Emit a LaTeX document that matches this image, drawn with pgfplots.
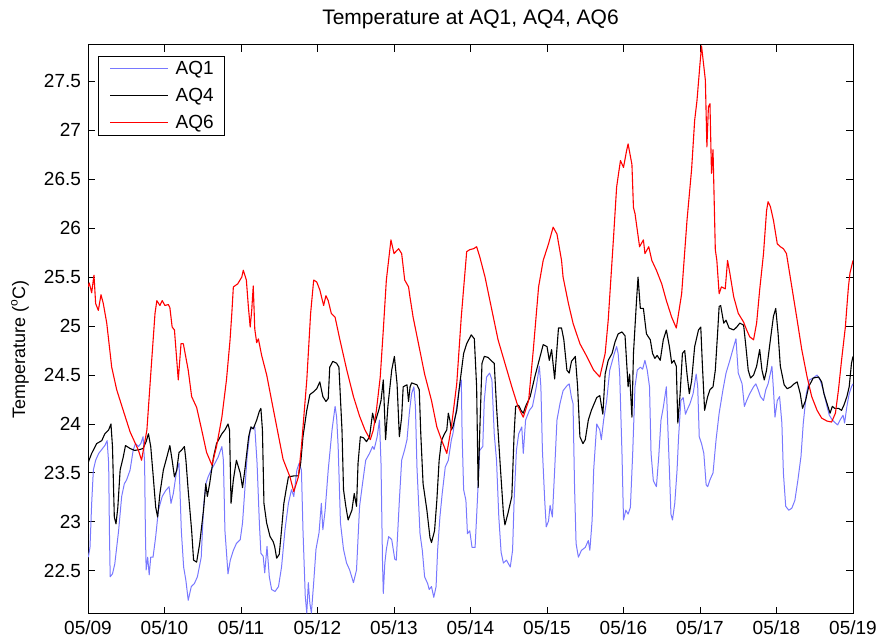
\documentclass[border=0pt]{standalone}
\usepackage{fontspec}
\setmainfont{Liberation Sans}
\usepackage{pgfplots}
\pgfplotsset{compat=1.18}

\definecolor{aqone}{RGB}{120,120,255}
\definecolor{aqsix}{RGB}{255,0,0}

% days since 05/09 00:00, temperature in deg C
\pgfplotstableread{
d T
0.004 22.64
0.026 22.74
0.048 23.19
0.070 23.53
0.100 23.63
0.140 23.70
0.190 23.75
0.220 23.78
0.250 23.83
0.270 23.60
0.280 22.91
0.290 22.44
0.320 22.47
0.350 22.57
0.400 22.91
0.440 23.26
0.475 23.39
0.505 23.43
0.550 23.53
0.590 23.73
0.620 23.80
0.660 23.77
0.690 23.80
0.720 23.87
0.740 23.60
0.750 22.91
0.760 22.51
0.780 22.64
0.800 22.46
0.820 22.64
0.850 22.64
0.885 22.85
0.920 23.12
0.970 23.26
1.015 23.32
1.060 23.36
1.085 23.19
1.115 23.29
1.160 23.53
1.190 23.60
1.220 22.91
1.250 22.54
1.280 22.40
1.310 22.20
1.350 22.34
1.390 22.37
1.430 22.44
1.480 22.64
1.510 23.15
1.540 23.39
1.570 23.46
1.610 23.53
1.660 23.60
1.700 23.66
1.750 23.77
1.770 23.63
1.790 22.91
1.830 22.47
1.860 22.61
1.900 22.71
1.940 22.78
1.990 22.82
2.020 22.99
2.050 23.33
2.080 23.67
2.120 23.94
2.150 23.96
2.180 23.97
2.210 23.60
2.240 22.99
2.260 22.68
2.290 22.65
2.310 22.48
2.340 22.75
2.370 22.44
2.400 22.31
2.445 22.29
2.490 22.34
2.530 22.54
2.575 22.92
2.620 23.19
2.660 23.33
2.690 23.26
2.730 23.53
2.760 23.60
2.790 23.53
2.810 22.92
2.840 22.24
2.860 22.07
2.880 22.38
2.900 22.17
2.920 22.07
2.950 22.38
2.980 22.72
3.020 22.89
3.050 23.19
3.070 22.92
3.100 23.12
3.140 23.53
3.190 23.94
3.230 24.18
3.250 24.07
3.270 23.77
3.300 22.99
3.340 22.72
3.380 22.58
3.420 22.51
3.470 22.38
3.510 22.51
3.550 23.16
3.590 23.40
3.630 23.63
3.680 23.70
3.720 23.77
3.740 23.74
3.780 23.87
3.810 24.04
3.830 23.60
3.850 22.58
3.860 22.27
3.880 22.58
3.900 22.72
3.930 22.85
3.970 22.82
4.010 22.62
4.030 22.61
4.070 23.22
4.100 23.63
4.140 23.74
4.170 23.84
4.200 24.11
4.230 24.31
4.260 24.38
4.280 24.18
4.300 23.56
4.320 23.22
4.340 22.88
4.370 22.71
4.400 22.44
4.440 22.37
4.460 22.31
4.490 22.34
4.520 22.23
4.550 22.34
4.570 22.71
4.600 23.05
4.630 23.29
4.670 23.56
4.710 23.63
4.750 23.84
4.770 23.90
4.820 24.18
4.850 24.35
4.880 24.45
4.890 23.90
4.910 23.33
4.940 23.22
4.960 22.88
4.990 22.91
5.020 22.74
5.060 22.74
5.090 23.22
5.120 23.73
5.160 23.77
5.180 24.24
5.210 24.48
5.250 24.52
5.280 24.45
5.310 23.90
5.340 23.63
5.370 23.05
5.400 22.69
5.430 22.58
5.470 22.61
5.520 22.54
5.550 22.71
5.570 23.22
5.600 23.73
5.630 23.90
5.670 23.97
5.690 23.70
5.720 24.04
5.770 24.14
5.810 24.18
5.860 24.38
5.900 24.59
5.920 24.38
5.940 23.73
5.970 23.22
5.990 22.95
6.020 23.01
6.040 23.17
6.070 23.05
6.100 23.53
6.130 24.04
6.170 24.21
6.210 24.34
6.260 24.39
6.290 24.41
6.320 24.27
6.340 24.21
6.360 23.36
6.380 22.78
6.410 22.64
6.450 22.71
6.500 22.74
6.540 22.81
6.560 22.71
6.590 23.02
6.610 23.53
6.650 24.00
6.690 23.94
6.710 23.84
6.740 24.04
6.780 24.24
6.820 24.55
6.880 24.72
6.910 24.79
6.930 24.72
6.950 24.51
6.980 23.70
7.000 23.02
7.030 23.12
7.060 23.08
7.090 23.15
7.120 23.70
7.150 24.38
7.180 24.55
7.220 24.58
7.250 24.56
7.280 24.65
7.310 24.55
7.340 24.38
7.360 23.70
7.390 23.42
7.430 23.36
7.460 23.66
7.490 24.04
7.520 24.17
7.560 24.38
7.570 24.17
7.600 23.53
7.620 23.08
7.640 23.02
7.670 23.19
7.700 23.53
7.720 23.87
7.750 24.24
7.780 24.27
7.810 24.10
7.830 24.14
7.870 24.21
7.910 24.31
7.950 24.51
7.970 24.38
7.990 23.87
8.020 23.80
8.050 23.70
8.080 23.38
8.100 23.36
8.130 23.43
8.170 23.50
8.210 23.84
8.250 24.11
8.300 24.35
8.340 24.52
8.390 24.65
8.440 24.79
8.470 24.87
8.500 24.52
8.550 24.41
8.580 24.18
8.610 24.24
8.650 24.31
8.700 24.38
8.730 24.41
8.760 24.35
8.790 24.28
8.830 24.24
8.860 24.35
8.890 24.41
8.940 24.59
8.960 24.35
8.980 24.07
9.010 24.24
9.040 24.28
9.070 24.01
9.090 23.50
9.120 23.16
9.160 23.12
9.200 23.14
9.240 23.22
9.280 23.43
9.320 23.67
9.350 24.01
9.390 24.31
9.430 24.45
9.480 24.47
9.530 24.50
9.570 24.45
9.610 24.35
9.660 24.18
9.690 24.09
9.730 24.04
9.770 24.01
9.800 23.99
9.830 24.04
9.870 24.09
9.890 24.01
9.920 24.18
9.950 24.31
9.980 24.38
10.000 24.41
}\aqA

\pgfplotstableread{
d T
0.004 23.61
0.048 23.70
0.113 23.80
0.180 23.83
0.220 23.90
0.270 23.94
0.300 24.00
0.320 23.77
0.344 23.05
0.366 22.98
0.390 23.15
0.420 23.53
0.460 23.66
0.490 23.78
0.550 23.75
0.610 23.73
0.680 23.74
0.720 23.75
0.760 23.82
0.790 23.90
0.820 23.77
0.850 23.49
0.885 23.15
0.910 23.05
0.940 23.29
0.985 23.53
1.030 23.66
1.070 23.78
1.100 23.63
1.130 23.46
1.160 23.53
1.190 23.71
1.220 23.73
1.260 23.77
1.280 23.63
1.310 23.32
1.355 22.91
1.380 22.61
1.420 22.59
1.460 22.78
1.510 23.12
1.540 23.39
1.560 23.26
1.590 23.39
1.640 23.66
1.680 23.80
1.750 23.90
1.790 23.94
1.830 24.00
1.850 23.94
1.870 23.19
1.900 23.43
1.940 23.63
1.990 23.50
2.020 23.35
2.050 23.53
2.100 23.87
2.130 23.97
2.160 23.95
2.205 24.04
2.240 24.13
2.260 24.16
2.280 23.94
2.300 23.19
2.335 22.99
2.380 22.85
2.420 22.80
2.440 22.75
2.466 22.63
2.500 22.67
2.530 22.92
2.560 23.19
2.590 23.33
2.620 23.46
2.690 23.47
2.750 23.47
2.780 23.60
2.810 23.87
2.860 24.14
2.900 24.30
2.950 24.33
2.990 24.36
3.030 24.43
3.070 24.28
3.110 24.23
3.140 24.26
3.160 24.58
3.200 24.64
3.250 24.62
3.280 24.58
3.320 23.94
3.340 23.33
3.370 23.16
3.400 23.02
3.450 23.12
3.480 23.29
3.510 23.16
3.530 23.60
3.560 23.87
3.600 23.86
3.640 23.82
3.680 23.87
3.720 24.11
3.750 24.01
3.800 24.14
3.830 24.24
3.860 24.45
3.890 23.84
3.920 24.18
3.970 24.55
4.005 24.69
4.040 24.41
4.070 23.87
4.100 24.07
4.120 24.38
4.170 24.40
4.190 24.23
4.210 24.38
4.230 24.42
4.300 24.40
4.330 24.35
4.350 23.90
4.380 23.39
4.430 23.12
4.470 22.84
4.490 22.79
4.530 22.91
4.560 23.22
4.590 23.63
4.620 23.83
4.660 23.90
4.690 23.94
4.710 24.11
4.730 24.04
4.750 23.94
4.770 23.97
4.820 24.14
4.860 24.41
4.910 24.72
4.950 24.82
5.010 24.91
5.050 24.87
5.080 24.38
5.100 23.35
5.120 23.90
5.150 24.62
5.180 24.69
5.230 24.68
5.280 24.64
5.310 24.62
5.340 24.18
5.390 23.56
5.430 23.09
5.450 22.97
5.490 23.09
5.540 23.26
5.570 23.90
5.590 24.18
5.630 24.19
5.660 24.14
5.690 24.11
5.720 24.18
5.780 24.28
5.840 24.48
5.910 24.69
5.950 24.81
6.000 24.79
6.030 24.65
6.060 24.76
6.100 24.46
6.150 24.98
6.190 24.98
6.220 24.86
6.260 24.55
6.290 24.52
6.320 24.64
6.370 24.69
6.400 24.38
6.430 23.87
6.470 23.80
6.500 23.84
6.540 24.04
6.580 24.14
6.650 24.27
6.690 24.29
6.730 24.10
6.760 24.51
6.800 24.65
6.850 24.72
6.890 24.84
6.930 24.92
6.980 24.94
7.020 24.90
7.060 24.38
7.080 24.51
7.110 24.07
7.130 24.72
7.170 25.26
7.190 25.50
7.220 25.18
7.260 25.18
7.300 24.92
7.350 24.86
7.380 24.72
7.410 24.67
7.440 24.70
7.480 24.65
7.520 24.86
7.560 24.96
7.600 24.79
7.630 24.62
7.660 24.65
7.690 24.59
7.710 24.01
7.740 24.31
7.770 24.72
7.800 24.75
7.830 24.51
7.860 24.31
7.890 24.44
7.930 24.79
7.980 24.96
8.010 24.99
8.030 24.62
8.060 24.14
8.100 24.28
8.130 24.35
8.170 24.38
8.200 24.55
8.230 24.93
8.250 25.20
8.270 25.21
8.310 25.03
8.340 25.06
8.380 24.98
8.440 24.96
8.480 24.99
8.520 25.03
8.570 25.01
8.600 24.79
8.630 24.55
8.660 24.47
8.700 24.50
8.740 24.59
8.780 24.76
8.810 24.55
8.840 24.45
8.870 24.55
8.920 24.86
8.960 25.10
8.990 25.18
9.020 24.93
9.050 24.59
9.100 24.40
9.140 24.36
9.190 24.38
9.230 24.41
9.270 24.43
9.310 24.31
9.340 24.16
9.380 24.24
9.420 24.38
9.480 24.47
9.550 24.48
9.590 24.43
9.620 24.31
9.660 24.21
9.700 24.11
9.730 24.18
9.760 24.16
9.810 24.16
9.850 24.14
9.880 24.19
9.920 24.28
9.950 24.38
9.980 24.62
10.000 24.69
}\aqB

\pgfplotstableread{
d T
0.000 25.40
0.017 25.44
0.048 25.34
0.078 25.52
0.100 25.23
0.135 25.16
0.170 25.32
0.200 25.23
0.245 25.03
0.310 24.58
0.375 24.35
0.460 24.14
0.550 23.92
0.660 23.73
0.700 23.63
0.770 23.94
0.830 24.62
0.876 25.13
0.900 25.26
0.940 25.21
0.970 25.26
1.006 25.21
1.050 25.22
1.070 25.19
1.100 24.99
1.130 24.96
1.180 24.45
1.216 24.82
1.246 24.82
1.310 24.55
1.355 24.28
1.420 24.17
1.486 23.94
1.550 23.71
1.620 23.58
1.680 23.77
1.750 24.07
1.810 24.45
1.856 24.85
1.880 25.13
1.900 25.40
1.956 25.43
2.010 25.50
2.030 25.57
2.070 25.47
2.096 25.20
2.120 24.99
2.140 25.16
2.160 25.41
2.180 24.97
2.205 24.83
2.227 24.87
2.270 24.70
2.336 24.50
2.420 24.16
2.490 23.88
2.550 23.64
2.640 23.46
2.690 23.31
2.750 23.46
2.790 23.77
2.860 24.45
2.910 25.13
2.950 25.47
2.990 25.45
3.030 25.37
3.080 25.21
3.110 25.31
3.140 25.26
3.180 25.13
3.230 25.09
3.290 24.87
3.380 24.56
3.470 24.28
3.550 24.08
3.620 23.94
3.690 23.84
3.730 23.94
3.770 24.14
3.820 24.48
3.860 24.96
3.900 25.47
3.960 25.88
4.000 25.74
4.060 25.79
4.100 25.74
4.140 25.47
4.190 25.40
4.210 25.29
4.250 25.09
4.320 24.82
4.400 24.51
4.490 24.24
4.560 23.97
4.620 23.84
4.690 23.70
4.750 23.97
4.820 24.41
4.880 25.10
4.950 25.76
4.990 25.78
5.040 25.79
5.080 25.81
5.120 25.71
5.190 25.50
5.280 25.16
5.360 24.86
5.450 24.62
5.540 24.38
5.620 24.18
5.690 24.07
5.760 24.24
5.820 24.75
5.890 25.40
5.950 25.67
6.020 25.84
6.080 26.01
6.130 25.94
6.190 25.67
6.210 25.50
6.280 25.23
6.340 25.03
6.430 24.82
6.520 24.69
6.610 24.55
6.690 24.48
6.760 24.72
6.800 25.06
6.870 25.91
6.910 26.42
6.960 26.69
7.000 26.62
7.040 26.79
7.060 26.86
7.110 26.65
7.130 26.21
7.150 26.15
7.180 25.98
7.210 25.81
7.260 25.88
7.280 25.74
7.330 25.81
7.370 25.67
7.430 25.57
7.500 25.43
7.560 25.26
7.630 25.09
7.690 24.98
7.760 25.33
7.830 26.08
7.890 26.60
7.930 27.10
7.960 27.30
8.000 27.68
8.020 27.86
8.070 27.51
8.090 26.83
8.110 27.24
8.130 27.27
8.150 26.56
8.170 26.80
8.200 25.78
8.220 25.67
8.250 25.33
8.280 25.40
8.330 25.38
8.360 25.67
8.390 25.54
8.440 25.30
8.500 25.13
8.570 25.04
8.610 24.96
8.650 24.89
8.700 24.86
8.740 25.03
8.780 25.37
8.830 25.74
8.870 26.18
8.890 26.27
8.920 26.22
8.960 26.08
9.010 25.84
9.050 25.81
9.090 25.79
9.130 25.74
9.200 25.40
9.270 25.06
9.330 24.76
9.400 24.48
9.460 24.28
9.530 24.14
9.590 24.06
9.660 24.03
9.720 24.02
9.770 24.11
9.810 24.35
9.850 24.65
9.900 24.99
9.920 25.20
9.940 25.40
9.960 25.54
10.000 25.67
}\aqC

\begin{document}
\begin{tikzpicture}
\path[use as bounding box] (0pt,0pt) rectangle (440.5pt,320.5pt);
\begin{axis}[
  at={(44pt,13.5pt)}, anchor=south west,
  scale only axis, width=382.5pt, height=284.5pt,
  xmin=0, xmax=10, ymin=22.06, ymax=27.87,
  xtick={0,1,2,3,4,5,6,7,8,9,10},
  xticklabels={05/09,05/10,05/11,05/12,05/13,05/14,05/15,05/16,05/17,05/18,05/19},
  ytick={22.5,23,23.5,24,24.5,25,25.5,26,26.5,27,27.5},
  tick align=inside, major tick length=3.5pt,
  axis line style={line width=0.5pt},
  every tick/.style={black, line width=0.5pt},
  /pgf/number format/assume math mode=true,
  tick label style={font=\fontsize{9.5}{11}\selectfont},
  title={Temperature at AQ1, AQ4, AQ6},
  title style={font=\fontsize{10.5}{12}\selectfont, at={(0.5,1)}, anchor=south, yshift=-1.5pt},
  ylabel={Temperature (\textsuperscript{o}C)},
  ylabel style={font=\fontsize{9}{11}\selectfont, at={(axis description cs:-0.0889,0.465)}, anchor=center},
  legend cell align=left,
  legend image code/.code={\path (0pt,0pt); \draw[#1] (1pt,0pt) -- (30pt,0pt);},
  legend style={at={(axis description cs:0.0131,0.981)}, anchor=north west,
    draw=black, line width=0.5pt, font=\fontsize{9.5}{11}\selectfont,
    inner xsep=4.5pt, inner ysep=1pt, row sep=3pt, column sep=2.5pt,
    nodes={inner sep=1pt, text height=7pt, text depth=1.5pt}},
  every axis plot/.append style={line join=round},
]
\addplot[aqone, line width=0.5pt] table[x=d, y=T] {\aqA};
\addplot[black, line width=0.55pt] table[x=d, y=T] {\aqB};
\addplot[aqsix, line width=0.55pt] table[x=d, y=T] {\aqC};
\legend{AQ1, AQ4, AQ6}
\end{axis}
\end{tikzpicture}
\end{document}
